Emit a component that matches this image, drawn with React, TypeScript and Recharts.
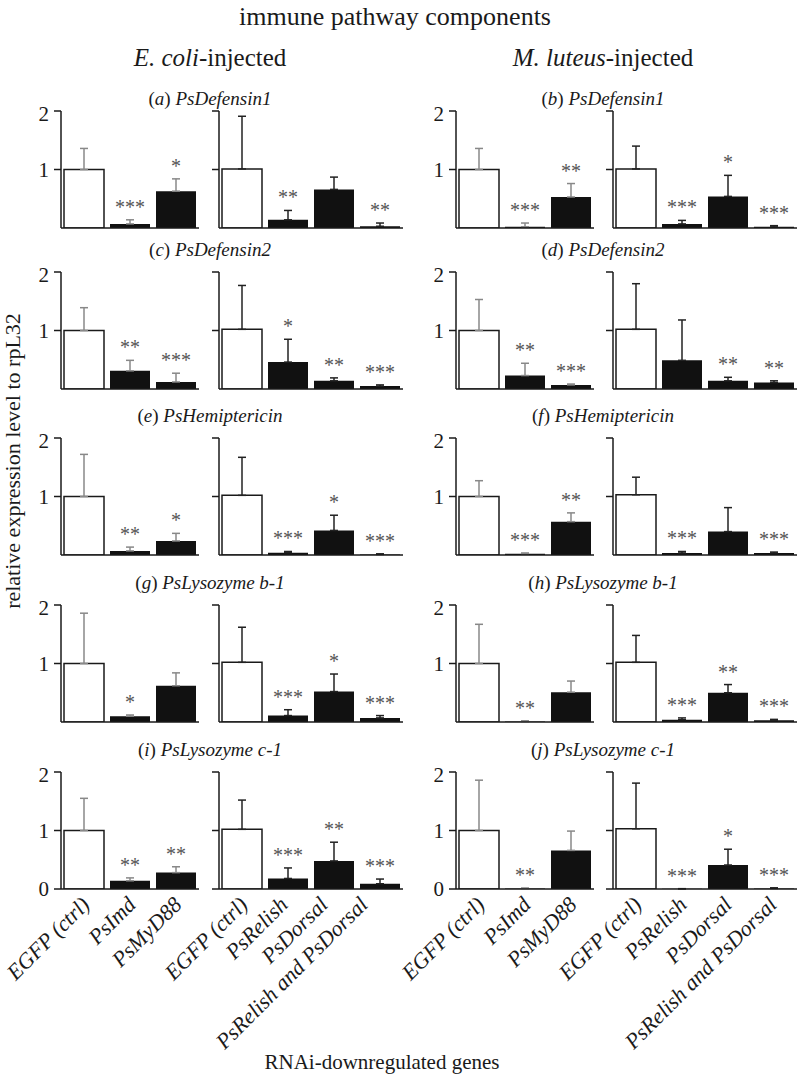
import React from 'react';
import { ComposedChart, Bar, Line, XAxis, YAxis, ErrorBar, Cell, LabelList } from 'recharts';

const upGenes = ['EGFP (ctrl)', 'PsImd', 'PsMyD88'];
const tfGenes = ['EGFP (ctrl)', 'PsRelish', 'PsDorsal', 'PsRelish and PsDorsal'];
const yTicks = [0, 1, 2];
const panelGenes = ['PsDefensin1', 'PsDefensin2', 'PsHemiptericin', 'PsLysozyme b-1', 'PsLysozyme c-1'];

// (a) PsDefensin1, E. coli
const aUpMean = [1.0, 0.07, 0.63];
const aUpErr = [0.36, 0.07, 0.21];
const aUpSig = ['', '***', '*'];
const aTfMean = [1.01, 0.14, 0.66, 0.03];
const aTfErr = [0.9, 0.16, 0.21, 0.055];
const aTfSig = ['', '**', '', '**'];
// (b) PsDefensin1, M. luteus
const bUpMean = [1.0, 0.02, 0.53];
const bUpErr = [0.36, 0.065, 0.23];
const bUpSig = ['', '***', '**'];
const bTfMean = [1.01, 0.07, 0.54, 0.02];
const bTfErr = [0.39, 0.06, 0.36, 0.02];
const bTfSig = ['', '***', '*', '***'];
// (c) PsDefensin2, E. coli
const cUpMean = [1.0, 0.31, 0.12];
const cUpErr = [0.39, 0.18, 0.15];
const cUpSig = ['', '**', '***'];
const cTfMean = [1.02, 0.46, 0.14, 0.05];
const cTfErr = [0.75, 0.39, 0.05, 0.02];
const cTfSig = ['', '*', '**', '***'];
// (d) PsDefensin2, M. luteus
const dUpMean = [1.0, 0.23, 0.07];
const dUpErr = [0.53, 0.21, 0.015];
const dUpSig = ['', '**', '***'];
const dTfMean = [1.02, 0.49, 0.14, 0.11];
const dTfErr = [0.78, 0.69, 0.06, 0.03];
const dTfSig = ['', '', '**', '**'];
// (e) PsHemiptericin, E. coli
const eUpMean = [1.0, 0.07, 0.24];
const eUpErr = [0.72, 0.065, 0.13];
const eUpSig = ['', '**', '*'];
const eTfMean = [1.02, 0.04, 0.42, 0.01];
const eTfErr = [0.65, 0.02, 0.26, 0.01];
const eTfSig = ['', '***', '*', '***'];
// (f) PsHemiptericin, M. luteus
const fUpMean = [1.0, 0.02, 0.57];
const fUpErr = [0.27, 0.015, 0.15];
const fUpSig = ['', '***', '**'];
const fTfMean = [1.03, 0.035, 0.4, 0.035];
const fTfErr = [0.3, 0.025, 0.41, 0.015];
const fTfSig = ['', '***', '', '***'];
// (g) PsLysozyme b-1, E. coli
const gUpMean = [1.0, 0.1, 0.62];
const gUpErr = [0.86, 0.02, 0.22];
const gUpSig = ['', '*', ''];
const gTfMean = [1.02, 0.11, 0.52, 0.07];
const gTfErr = [0.6, 0.1, 0.3, 0.04];
const gTfSig = ['', '***', '*', '***'];
// (h) PsLysozyme b-1, M. luteus
const hUpMean = [1.0, 0.01, 0.51];
const hUpErr = [0.67, 0.01, 0.19];
const hUpSig = ['', '**', ''];
const hTfMean = [1.02, 0.04, 0.5, 0.03];
const hTfErr = [0.46, 0.03, 0.14, 0.015];
const hTfSig = ['', '***', '**', '***'];
// (i) PsLysozyme c-1, E. coli
const iUpMean = [1.0, 0.14, 0.28];
const iUpErr = [0.55, 0.05, 0.1];
const iUpSig = ['', '**', '**'];
const iTfMean = [1.02, 0.18, 0.48, 0.09];
const iTfErr = [0.5, 0.18, 0.32, 0.08];
const iTfSig = ['', '***', '**', '***'];
// (j) PsLysozyme c-1, M. luteus
const jUpMean = [1.0, 0.01, 0.66];
const jUpErr = [0.86, 0.005, 0.33];
const jUpSig = ['', '**', ''];
const jTfMean = [1.03, 0.005, 0.41, 0.01];
const jTfErr = [0.78, 0.0, 0.27, 0.01];
const jTfSig = ['', '***', '*', '***'];

const panels = [
  { letter: 'a', up: [aUpMean, aUpErr, aUpSig], tf: [aTfMean, aTfErr, aTfSig] },
  { letter: 'b', up: [bUpMean, bUpErr, bUpSig], tf: [bTfMean, bTfErr, bTfSig] },
  { letter: 'c', up: [cUpMean, cUpErr, cUpSig], tf: [cTfMean, cTfErr, cTfSig] },
  { letter: 'd', up: [dUpMean, dUpErr, dUpSig], tf: [dTfMean, dTfErr, dTfSig] },
  { letter: 'e', up: [eUpMean, eUpErr, eUpSig], tf: [eTfMean, eTfErr, eTfSig] },
  { letter: 'f', up: [fUpMean, fUpErr, fUpSig], tf: [fTfMean, fTfErr, fTfSig] },
  { letter: 'g', up: [gUpMean, gUpErr, gUpSig], tf: [gTfMean, gTfErr, gTfSig] },
  { letter: 'h', up: [hUpMean, hUpErr, hUpSig], tf: [hTfMean, hTfErr, hTfSig] },
  { letter: 'i', up: [iUpMean, iUpErr, iUpSig], tf: [iTfMean, iTfErr, iTfSig] },
  { letter: 'j', up: [jUpMean, jUpErr, jUpSig], tf: [jTfMean, jTfErr, jTfSig] },
];

const FONT = "'Liberation Serif', 'Times New Roman', serif";
const INK = '#1a1a1a';
const PLOT_H = 117;
const BAND = 46;
const rowTops = [111, 272, 438, 605, 772];
const titleYs = [99, 250, 416, 583, 750];
const upAxisX = [61, 456];
const tfAxisX = [219, 613];
const colCenters = [210, 603];

const GeneTick = (props: any) => {
  const { x, y, payload, index, step } = props;
  const ax = x + 7 - (step || 0) * index;
  const ay = y + 9;
  return (
    <text
      x={ax}
      y={ay}
      transform={`rotate(-45, ${ax}, ${ay})`}
      textAnchor="end"
      fontFamily={FONT}
      fontStyle="italic"
      fontSize={22}
      fill={INK}
    >
      {payload.value}
    </text>
  );
};

const NoTick = () => <g />;

function SubChart({ genes, values, axisX, top, labels, errColor, bottom, step }: any) {
  const [mean, err, sig] = values;
  const data = genes.map((g: string, i: number) => ({
    gene: g,
    mean: mean[i],
    err: [0, err[i]],
    top: mean[i] + err[i],
    sig: sig[i],
  }));
  const yw = labels ? 40 : 20;
  const ml = bottom ? 80 : 0;
  const xh = bottom ? 175 : 1;
  return (
    <div style={{ position: 'absolute', left: axisX - yw - ml, top: top - 10 }}>
      <ComposedChart
        width={ml + yw + genes.length * BAND}
        height={10 + PLOT_H + xh}
        data={data}
        margin={{ top: 10, right: 0, bottom: 0, left: ml }}
      >
        <XAxis
          dataKey="gene"
          height={xh}
          axisLine={{ stroke: INK, strokeWidth: 1.5 }}
          tickLine={false}
          tick={bottom ? <GeneTick step={step} /> : false}
          interval={0}
        />
        <YAxis
          width={yw}
          domain={[0, 2]}
          ticks={yTicks}
          allowDataOverflow
          axisLine={{ stroke: INK, strokeWidth: 1.5 }}
          tickLine={{ stroke: INK, strokeWidth: 1.5 }}
          tickSize={7}
          tickMargin={5}
          tick={labels ? { fontFamily: FONT, fontSize: 21, fill: INK } : <NoTick />}
        />
        <Bar dataKey="mean" barSize={40} isAnimationActive={false}>
          {data.map((_: any, i: number) => (
            <Cell
              key={i}
              fill={i === 0 ? '#ffffff' : '#111111'}
              stroke={i === 0 ? INK : 'none'}
              strokeWidth={1.5}
            />
          ))}
          <ErrorBar dataKey="err" width={4} stroke={errColor} strokeWidth={1.5} />
        </Bar>
        <Line dataKey="top" stroke="none" dot={false} activeDot={false} isAnimationActive={false}>
          <LabelList dataKey="sig" position="top" offset={6} fill="#555" fontSize={20} fontFamily={FONT} />
        </Line>
      </ComposedChart>
    </div>
  );
}

const abs = (x: number, y: number, extra: any = {}) => ({
  position: 'absolute' as const,
  left: x,
  top: y,
  transform: 'translate(-50%, -50%)',
  whiteSpace: 'nowrap' as const,
  fontFamily: FONT,
  color: INK,
  ...extra,
});

export default function App() {
  return (
    <div style={{ position: 'absolute', left: 0, top: 0, width: 798, height: 1081, background: '#fff' }}>
      <div style={abs(395, 17, { fontSize: 26 })}>immune pathway components</div>
      <div style={abs(colCenters[0], 58, { fontSize: 25 })}>
        <i>E. coli</i>-injected
      </div>
      <div style={abs(colCenters[1], 58, { fontSize: 25 })}>
        <i>M. luteus</i>-injected
      </div>
      {panels.map((p, k) => {
        const row = Math.floor(k / 2);
        const col = k % 2;
        const bottom = row === 4;
        return (
          <React.Fragment key={p.letter}>
            <div style={abs(colCenters[col], titleYs[row], { fontSize: 19 })}>
              (<i>{p.letter}</i>) <i>{panelGenes[row]}</i>
            </div>
            <SubChart genes={upGenes} values={p.up} axisX={upAxisX[col]} top={rowTops[row]} labels errColor="#888" bottom={bottom} step={0} />
            <SubChart genes={tfGenes} values={p.tf} axisX={tfAxisX[col]} top={rowTops[row]} labels={false} errColor="#222" bottom={bottom} step={col === 0 ? 6 : 1} />
          </React.Fragment>
        );
      })}
      <div style={abs(13, 461, { fontSize: 22, transform: 'translate(-50%, -50%) rotate(-90deg)' })}>
        relative expression level to rpL32
      </div>
      <div style={abs(382, 1062, { fontSize: 21 })}>RNAi-downregulated genes</div>
    </div>
  );
}
